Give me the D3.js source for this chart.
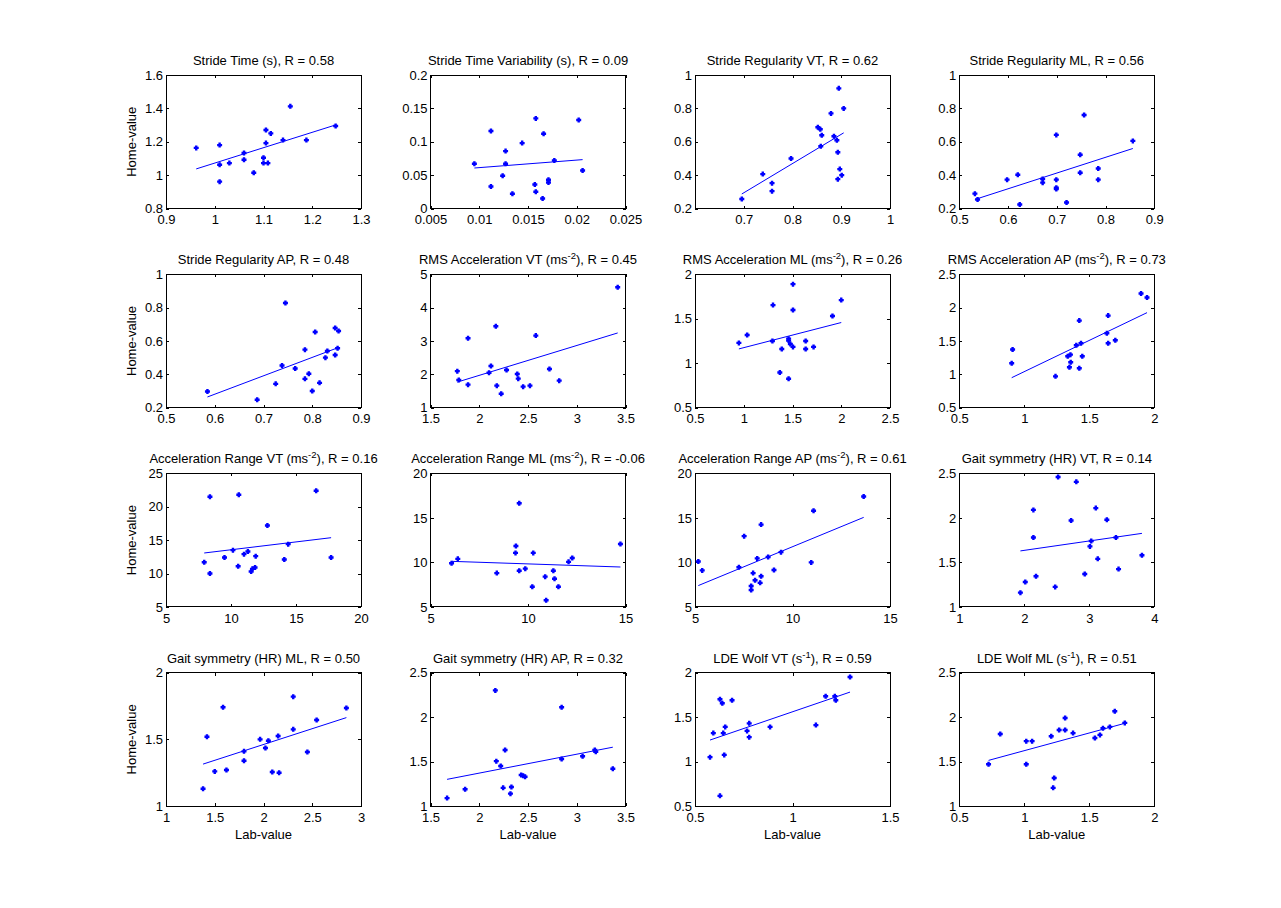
<!DOCTYPE html>
<html>
<head>
<meta charset="utf-8">
<script src="https://cdn.jsdelivr.net/npm/d3@7"></script>
<style>
body { margin: 0; background: #fff; }
text { font-family: "Liberation Sans", Arial, sans-serif; font-size: 13px; fill: #000; }
</style>
</head>
<body>
<div id="chart"></div>
<script>
// panel titles, "^-2" marks a superscript
const titles = [
    "Stride Time (s), R = 0.58", "Stride Time Variability (s), R = 0.09",
    "Stride Regularity VT, R = 0.62", "Stride Regularity ML, R = 0.56",
    "Stride Regularity AP, R = 0.48", "RMS Acceleration VT (ms^-2), R = 0.45",
    "RMS Acceleration ML (ms^-2), R = 0.26", "RMS Acceleration AP (ms^-2), R = 0.73",
    "Acceleration Range VT (ms^-2), R = 0.16", "Acceleration Range ML (ms^-2), R = -0.06",
    "Acceleration Range AP (ms^-2), R = 0.61", "Gait symmetry (HR) VT, R = 0.14",
    "Gait symmetry (HR) ML, R = 0.50", "Gait symmetry (HR) AP, R = 0.32",
    "LDE Wolf VT (s^-1), R = 0.59", "LDE Wolf ML (s^-1), R = 0.51"
];

const xDomains = [[0.9,1.3],[0.005,0.025],[0.6,1],[0.5,0.9],[0.5,0.9],[1.5,3.5],[0.5,2.5],[0.5,2],
                  [5,20],[5,15],[5,15],[1,4],[1,3],[1.5,3.5],[0.5,1.5],[0.5,2]];
const yDomains = [[0.8,1.6],[0,0.2],[0.2,1],[0.2,1],[0.2,1],[1,5],[0.5,2],[0.5,2.5],
                  [5,25],[5,20],[5,20],[1,2.5],[1,2],[1,2.5],[0.5,2],[1,2.5]];
const xTicks = [[0.9,1,1.1,1.2,1.3],[0.005,0.01,0.015,0.02,0.025],[0.7,0.8,0.9,1],[0.5,0.6,0.7,0.8,0.9],
                [0.5,0.6,0.7,0.8,0.9],[1.5,2,2.5,3,3.5],[0.5,1,1.5,2,2.5],[0.5,1,1.5,2],
                [5,10,15,20],[5,10,15],[5,10,15],[1,2,3,4],
                [1,1.5,2,2.5,3],[1.5,2,2.5,3,3.5],[0.5,1,1.5],[0.5,1,1.5,2]];
const yTicks = [[0.8,1,1.2,1.4,1.6],[0,0.05,0.1,0.15,0.2],[0.2,0.4,0.6,0.8,1],[0.2,0.4,0.6,0.8,1],
                [0.2,0.4,0.6,0.8,1],[1,2,3,4,5],[0.5,1,1.5,2],[0.5,1,1.5,2,2.5],
                [5,10,15,20,25],[5,10,15,20],[5,10,15,20],[1,1.5,2,2.5],
                [1,1.5,2],[1,1.5,2,2.5],[0.5,1,1.5,2],[1,1.5,2,2.5]];

// [lab, home] pairs
const strideTime = [[0.962,1.163],[1.01,1.18],[1.01,1.062],[1.01,0.961],[1.03,1.072],[1.06,1.133],[1.06,1.092],[1.08,1.014],[1.10,1.104],
    [1.10,1.072],[1.109,1.072],[1.105,1.27],[1.105,1.192],[1.115,1.25],[1.14,1.21],[1.155,1.412],[1.188,1.21],[1.248,1.294]];
const strideTimeVar = [[0.0095,0.067],[0.0112,0.116],[0.0112,0.033],[0.0127,0.086],[0.0127,0.067],[0.0124,0.049],[0.0134,0.022],[0.0144,0.098],[0.0158,0.135],
    [0.0157,0.036],[0.0158,0.025],[0.0165,0.015],[0.0166,0.112],[0.0171,0.043],[0.0171,0.039],[0.0177,0.072],[0.0202,0.1325],[0.0206,0.057]];
const strideRegVT = [[0.696,0.257],[0.739,0.406],[0.758,0.352],[0.758,0.304],[0.797,0.50],[0.852,0.687],[0.857,0.675],[0.86,0.639],[0.858,0.573],
    [0.879,0.77],[0.885,0.633],[0.891,0.609],[0.893,0.537],[0.895,0.92],[0.905,0.80],[0.897,0.436],[0.901,0.40],[0.893,0.376]];
const strideRegML = [[0.532,0.289],[0.5375,0.254],[0.598,0.373],[0.62,0.402],[0.624,0.224],[0.671,0.377],[0.671,0.355],[0.699,0.641],[0.699,0.373],
    [0.699,0.325],[0.699,0.317],[0.72,0.236],[0.748,0.522],[0.748,0.414],[0.756,0.76],[0.785,0.44],[0.785,0.373],[0.856,0.605]];
const strideRegAP = [[0.585,0.297],[0.687,0.248],[0.725,0.343],[0.738,0.453],[0.745,0.827],[0.765,0.435],[0.785,0.548],[0.785,0.373],[0.793,0.403],
    [0.80,0.30],[0.806,0.654],[0.815,0.349],[0.827,0.50],[0.831,0.54],[0.847,0.678],[0.847,0.516],[0.854,0.66],[0.852,0.556]];
const rmsVT = [[1.775,2.095],[1.79,1.83],[1.885,3.08],[1.885,1.69],[2.10,2.045],[2.12,2.25],[2.17,3.44],[2.18,1.66],[2.225,1.42],
    [2.28,2.13],[2.39,2.01],[2.40,1.87],[2.45,1.63],[2.52,1.66],[2.58,3.16],[2.72,2.16],[2.82,1.81],[3.42,4.61]];
const rmsML = [[0.95,1.228],[1.035,1.317],[1.294,1.25],[1.30,1.653],[1.39,1.16],[1.37,0.895],[1.46,1.276],[1.46,1.254],[1.46,0.825],
    [1.478,1.216],[1.505,1.888],[1.505,1.597],[1.505,1.183],[1.635,1.25],[1.635,1.16],[1.716,1.183],[1.91,1.53],[2.0,1.709]];
const rmsAP = [[0.903,1.165],[0.91,1.373],[1.24,0.97],[1.334,1.27],[1.355,1.295],[1.357,1.18],[1.347,1.105],[1.40,1.435],[1.423,1.805],
    [1.436,1.465],[1.446,1.27],[1.423,1.09],[1.635,1.615],[1.645,1.88],[1.645,1.465],[1.70,1.51],[1.898,2.21],[1.944,2.15]];
const rangeVT = [[7.94,11.7],[8.38,21.5],[8.38,10.0],[9.5,12.4],[10.15,13.5],[10.6,21.8],[10.55,11.1],[11.0,12.9],[11.3,13.3],
    [11.55,10.3],[11.65,10.7],[11.85,10.9],[11.9,12.6],[12.8,17.2],[14.1,12.1],[14.4,14.4],[16.55,22.4],[17.7,12.4]];
const rangeML = [[6.08,9.9],[6.4,10.4],[8.4,8.8],[9.36,11.07],[9.38,11.85],[9.55,16.65],[9.55,9.06],[9.86,9.3],[10.27,11.07],
    [10.22,7.27],[10.88,8.4],[10.93,5.75],[11.3,9.06],[11.36,8.17],[11.56,7.27],[12.08,10.06],[12.27,10.5],[14.74,12.07]];
const rangeAP = [[5.17,10.1],[5.37,9.1],[7.25,9.45],[7.52,12.95],[7.88,7.35],[7.88,6.9],[7.98,8.8],[8.08,8.0],[8.19,10.45],
    [8.34,7.7],[8.39,8.45],[8.39,14.25],[8.75,10.6],[9.05,9.15],[9.41,11.15],[10.96,10.0],[11.08,15.8],[13.65,17.4]];
const symVT = [[1.94,1.16],[2.015,1.28],[2.14,2.09],[2.14,1.78],[2.18,1.345],[2.475,1.225],[2.52,2.46],[2.72,1.97],[2.80,2.405],
    [2.93,1.37],[3.01,1.68],[3.03,1.74],[3.10,2.11],[3.13,1.54],[3.27,1.98],[3.41,1.78],[3.45,1.425],[3.81,1.58]];
const symML = [[1.38,1.13],[1.42,1.52],[1.50,1.26],[1.585,1.74],[1.62,1.27],[1.80,1.41],[1.80,1.34],[1.965,1.50],[2.02,1.435],
    [2.05,1.49],[2.09,1.255],[2.15,1.525],[2.16,1.25],[2.305,1.82],[2.305,1.575],[2.45,1.405],[2.545,1.645],[2.85,1.735]];
const symAP = [[1.67,1.09],[1.855,1.19],[2.165,2.30],[2.175,1.505],[2.22,1.45],[2.245,1.205],[2.265,1.63],[2.32,1.14],[2.33,1.215],
    [2.43,1.35],[2.45,1.34],[2.47,1.33],[2.845,2.11],[2.845,1.53],[3.06,1.56],[3.185,1.63],[3.195,1.61],[3.37,1.42]];
const ldeVT = [[0.577,1.05],[0.594,1.32],[0.628,1.70],[0.628,0.615],[0.64,1.655],[0.645,1.32],[0.65,1.075],[0.655,1.39],[0.69,1.69],
    [0.767,1.345],[0.778,1.43],[0.778,1.275],[0.885,1.39],[1.12,1.41],[1.17,1.735],[1.217,1.735],[1.222,1.69],[1.295,1.95]];
const ldeML = [[0.725,1.47],[0.815,1.81],[1.015,1.73],[1.015,1.47],[1.06,1.73],[1.207,1.785],[1.23,1.315],[1.222,1.205],[1.268,1.855],
    [1.314,1.99],[1.314,1.855],[1.375,1.82],[1.543,1.765],[1.582,1.80],[1.605,1.875],[1.658,1.89],[1.696,2.065],[1.773,1.935]];

const panels = [strideTime, strideTimeVar, strideRegVT, strideRegML,
                strideRegAP, rmsVT, rmsML, rmsAP,
                rangeVT, rangeML, rangeAP, symVT,
                symML, symAP, ldeVT, ldeML];

const colLeft = [166, 430.5, 695, 959.3],
    rowTop = [75, 274.2, 473.4, 672.6],
    aw = 195, ah = 133.5,
    BLUE = "#0000ff";

const fmt = d => String(+d.toFixed(4));

// least squares line, like lsline
function fitLine(pts){
    const mx = d3.mean(pts, d => d[0]), my = d3.mean(pts, d => d[1]);
    const sxy = d3.sum(pts, d => (d[0]-mx)*(d[1]-my));
    const sxx = d3.sum(pts, d => (d[0]-mx)*(d[0]-mx));
    const b = sxy/sxx, a = my - b*mx;
    const ext = d3.extent(pts, d => d[0]);
    return ext.map(x => [x, a + b*x]);
}

const svg = d3.select("#chart").append("svg")
    .attr("width", 1281)
    .attr("height", 908);

panels.forEach((pts, i) => {
    const col = i % 4, row = Math.floor(i / 4);
    const g = svg.append("g")
        .attr("transform", "translate(" + colLeft[col] + "," + rowTop[row] + ")");

    const x = d3.scaleLinear().domain(xDomains[i]).range([0, aw]);
    const y = d3.scaleLinear().domain(yDomains[i]).range([ah, 0]);

    g.append("rect")
        .attr("width", aw).attr("height", ah)
        .attr("fill", "#fff").attr("stroke", "#000").attr("stroke-width", 1)
        .attr("shape-rendering", "crispEdges");

    // inward ticks on all four sides, labels only bottom/left
    const axB = g.append("g").attr("transform", "translate(0," + ah + ")")
        .call(d3.axisBottom(x).tickValues(xTicks[i]).tickFormat(fmt).tickSizeInner(-3).tickSizeOuter(0).tickPadding(6.5));
    const axT = g.append("g")
        .call(d3.axisTop(x).tickValues(xTicks[i]).tickFormat("").tickSizeInner(-3).tickSizeOuter(0));
    const axL = g.append("g")
        .call(d3.axisLeft(y).tickValues(yTicks[i]).tickFormat(fmt).tickSizeInner(-3).tickSizeOuter(0).tickPadding(3));
    const axR = g.append("g").attr("transform", "translate(" + aw + ",0)")
        .call(d3.axisRight(y).tickValues(yTicks[i]).tickFormat("").tickSizeInner(-3).tickSizeOuter(0));
    [axB, axT, axL, axR].forEach(a => {
        a.select(".domain").remove();
        a.attr("font-size", null).attr("font-family", null);
        a.selectAll("line").attr("shape-rendering", "crispEdges");
    });

    // fit line
    g.append("path")
        .datum(fitLine(pts))
        .attr("fill", "none")
        .attr("stroke", BLUE)
        .attr("stroke-width", 1)
        .attr("d", d3.line().x(d => x(d[0])).y(d => y(d[1])));

    // markers
    g.append("g").selectAll("path").data(pts).enter().append("path")
        .attr("transform", d => "translate(" + x(d[0]) + "," + y(d[1]) + ")")
        .attr("d", "M-2.5,-1.2H2.5V1.2H-2.5Z M-1.2,-2.5H1.2V2.5H-1.2Z")
        .attr("fill", BLUE);

    // title with superscript
    const parts = titles[i].split(/\^(-?\d)/);
    const t = g.append("text")
        .attr("x", aw / 2)
        .attr("y", -10)
        .attr("text-anchor", "middle");
    t.append("tspan").text(parts[0]);
    if (parts.length > 1) {
        t.append("tspan").attr("font-size", "9.5px").attr("dy", -5).text(parts[1]);
        t.append("tspan").attr("dy", 5).text(parts[2]);
    }

    if (col === 0) {
        g.append("text")
            .attr("transform", "translate(-30," + (ah / 2) + ") rotate(-90)")
            .attr("text-anchor", "middle")
            .text("Home-value");
    }
    if (row === 3) {
        g.append("text")
            .attr("x", aw / 2)
            .attr("y", ah + 33)
            .attr("text-anchor", "middle")
            .text("Lab-value");
    }
});
</script>
</body>
</html>
